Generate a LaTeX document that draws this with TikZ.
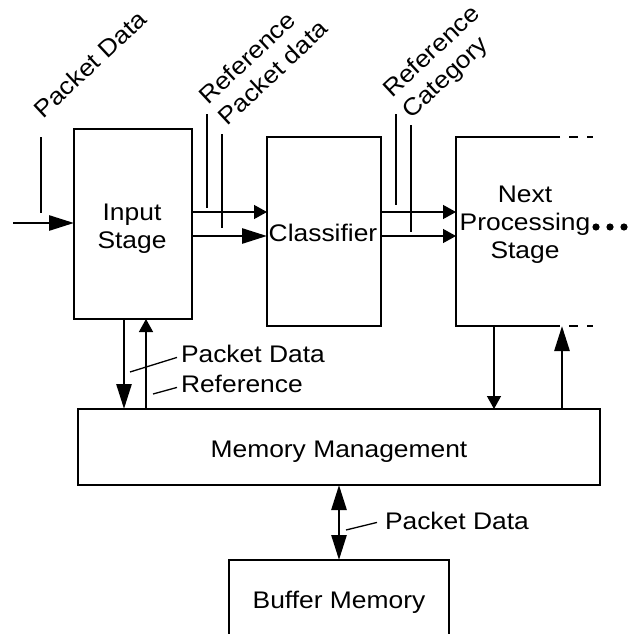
\documentclass[tikz,border=0pt]{standalone}
\usepackage{fontspec}
\setmainfont{Liberation Sans}[FakeStretch=1.1]
\usetikzlibrary{arrows.meta}
\begin{document}
\begin{tikzpicture}[x=1pt,y=-1pt,
  thinl/.style={line width=1.3pt},
  thickl/.style={line width=2.7pt},
  thinarrow/.style={thinl,-{Triangle[length=13pt,width=14pt]}},
  thickarrow/.style={thickl,-{Triangle[length=25pt,width=15pt]}},
  dblarrow/.style={thickl,{Triangle[length=25pt,width=15pt]}-{Triangle[length=25pt,width=15pt]}},
  boxn/.style={draw,thinl,inner sep=0pt,outer sep=0pt},
  txt/.style={inner sep=0pt,outer sep=0pt,font=\fontsize{24}{28}\selectfont},
  rot/.style={txt,rotate=43,align=left},
  dashedge/.style={thinl,dash pattern=on 9pt off 9pt}
]
\useasboundingbox (0,0) rectangle (635,634);
\clip (0,0) rectangle (635,634);
\fill[white] (0,0) rectangle (635,634);

% boxes
\node[boxn,minimum width=118pt,minimum height=190pt] (inp) at (133,224) {};
\node[boxn,line width=2.7pt,minimum width=114pt,minimum height=189pt] (cls) at (324,231.5) {};
\node[inner sep=0pt,outer sep=0pt,minimum width=137pt,minimum height=189pt] (nxt) at (524.5,231.5) {};
\node[boxn,minimum width=522pt,minimum height=76pt] (mem) at (339,447) {};
\node[boxn,minimum width=220pt,minimum height=110pt] (buf) at (339,615) {};

% next stage open box
\coordinate (nt1) at (560,137);
\coordinate (nb1) at (560,326);
\draw[thinl] (nt1) -- (nxt.north west) -- (nxt.south west) -- (nb1);
\coordinate (nt2) at (569,137);
\coordinate (nt3) at (593,137);
\coordinate (nb2) at (569,326);
\coordinate (nb3) at (593,326);
\draw[dashedge] (nt2) -- (nt3);
\draw[dashedge] (nb2) -- (nb3);

% box texts
\node[txt,align=center] (inptxt) at (132,228.5) {Input\\Stage};
\node[txt] (clstxt) at (323,232.5) {Classifier};
\node[txt,align=center] (nxttxt) at (525,224.5) {Next\\Processing\\Stage};
\node[txt,anchor=base] (memtxt) at (339,457) {Memory Management};
\node[txt,anchor=base] (buftxt) at (339,608) {Buffer Memory};

% ellipsis dots
\fill (596,227) circle (3.6);
\fill (610,227) circle (3.6);
\fill (624,227) circle (3.6);

% horizontal rows
\coordinate (r0) at (0,223);
\coordinate (r1) at (0,212);
\coordinate (r2) at (0,236);
\coordinate (src) at (13,223);
\draw[thickarrow] (src) -- (inp.west |- r0);
\draw[thinarrow] (inp.east |- r1) -- (cls.west |- r1);
\draw[thickarrow] (inp.east |- r2) -- (cls.west |- r2);
\draw[thinarrow] (cls.east |- r1) -- (nxt.west |- r1);
\draw[thinarrow] (cls.east |- r2) -- (nxt.west |- r2);

% vertical arrows
\coordinate (xa) at (124,0);
\coordinate (xb) at (146,0);
\coordinate (xc) at (494,0);
\coordinate (xd) at (562,0);
\draw[thickarrow] (inp.south -| xa) -- (mem.north -| xa);
\draw[thinarrow] (mem.north -| xb) -- (inp.south -| xb);
\draw[thinarrow] (nxt.south -| xc) -- (mem.north -| xc);
\draw[thickarrow] (mem.north -| xd) -- (nxt.south -| xd);
\draw[dblarrow] (mem.south) -- (buf.north);

% label leader ticks (vertical)
\coordinate (v1t) at (41,137); \coordinate (v1b) at (41,213);
\coordinate (v2t) at (207,114); \coordinate (v2b) at (207,208);
\coordinate (v3t) at (222,134); \coordinate (v3b) at (222,228);
\coordinate (v4t) at (396,114); \coordinate (v4b) at (396,205);
\coordinate (v5t) at (411,125); \coordinate (v5b) at (411,232);
\draw[thinl] (v1t) -- (v1b);
\draw[thinl] (v2t) -- (v2b);
\draw[thinl] (v3t) -- (v3b);
\draw[thinl] (v4t) -- (v4b);
\draw[thinl] (v5t) -- (v5b);

% rotated labels
\node[rot] (lpin) at (90,64) {Packet Data};
\node[rot] (lrp) at (263,62) {Reference\\Packet data};
\node[rot] (lrc) at (442,63) {Reference\\Category};

% side labels
\node[txt,anchor=base west] (lpd) at (181,362) {Packet Data};
\node[txt,anchor=base west] (lref) at (181,392) {Reference};
\node[txt,anchor=base west] (lbpd) at (385,529) {Packet Data};
\coordinate (k1) at (130,372);
\coordinate (k2) at (153,394);
\coordinate (k3) at (346,530);
\draw[thinl] (k1) -- ([shift={(-4,4)}]lpd.west);
\draw[thinl] (k2) -- ([shift={(-4,4)}]lref.west);
\draw[thinl] (k3) -- ([shift={(-8,2)}]lbpd.west);
\end{tikzpicture}
\end{document}
